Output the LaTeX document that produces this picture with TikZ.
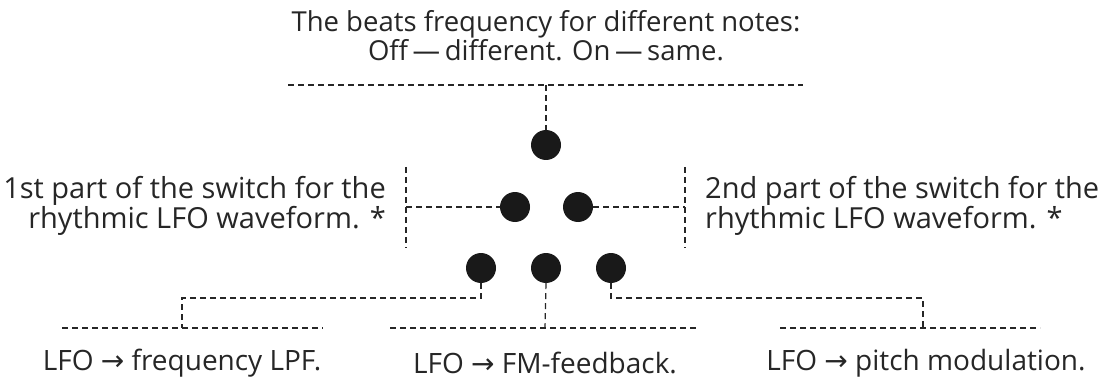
\documentclass[tikz,border=0pt]{standalone}
\usepackage{fontspec}
\setmainfont{Open Sans}
\newfontfamily\arrowfont{DejaVu Sans}
\newcommand{\rarr}{{\arrowfont\char"2192}}
\begin{document}
\begin{tikzpicture}[x=1pt,y=-1pt,
  dot/.style={circle,fill=black!90,draw=none,minimum size=30pt,inner sep=0pt},
  conn/.style={dash pattern=on 6pt off 4pt,line width=1.2pt,black!85},
  lbl/.style={font=\fontsize{28}{29}\selectfont,text=black!85,inner sep=0pt},
  side/.style={lbl,font=\fontsize{29}{29}\selectfont},
  ttl/.style={lbl,font=\fontsize{27.5}{29}\selectfont}]
\useasboundingbox (0,0) rectangle (1098,385);
% text
\node[ttl,align=center] (title) at (546,36) {The beats frequency for different notes:\\Off\,—\,different. On\,—\,same.};
\node[side,align=right,anchor=east] (left) at (386,206) {1st part of the switch for the\\rhythmic LFO waveform. *};
\node[side,align=left,anchor=west] (right) at (705,206) {2nd part of the switch for the\\rhythmic LFO waveform. *};
\node[lbl] (lpf) at (182,363) {LFO \rarr{} frequency LPF.};
\node[lbl] (fm) at (545,363) {LFO \rarr{} FM-feedback.};
\node[lbl] (pitch) at (926,363) {LFO \rarr{} pitch modulation.};
% dots
\node[dot] (d1) at (546,145) {};
\node[dot] (d2) at (515,207) {};
\node[dot] (d3) at (578,207) {};
\node[dot] (d4) at (481,268) {};
\node[dot] (d5) at (546,268) {};
\node[dot] (d6) at (611,268) {};
% coordinates
\coordinate (tl) at (288,85);
\coordinate (tr) at (803,85);
\coordinate (tm) at (546,85);
\coordinate (lv1) at (406,167);
\coordinate (lv2) at (406,248);
\coordinate (lm) at (406,207);
\coordinate (rv1) at (685,167);
\coordinate (rv2) at (685,248);
\coordinate (rm) at (685,207);
\coordinate (b1a) at (62,328);
\coordinate (b1b) at (323,328);
\coordinate (b1m) at (182,328);
\coordinate (b2a) at (390,328);
\coordinate (b2b) at (699,328);
\coordinate (b2m) at (545,328);
\coordinate (b3a) at (780,328);
\coordinate (b3b) at (1040,328);
\coordinate (b3m) at (923,328);
% connectors
\draw[conn] (tl) -- (tr);
\draw[conn] (tm) -- (d1.north);
\draw[conn] (lv1) -- (lv2);
\draw[conn] (lm) -- (d2.west);
\draw[conn] (rv1) -- (rv2);
\draw[conn] (d3.east) -- (rm);
\draw[conn] (b1a) -- (b1b);
\draw[conn] (b2a) -- (b2b);
\draw[conn] (b3a) -- (b3b);
\draw[conn] (d4.south) |- (182,298) -- (b1m);
\draw[conn] (d5.south) -- (b2m);
\draw[conn] (d6.south) |- (923,298) -- (b3m);
\end{tikzpicture}
\end{document}
